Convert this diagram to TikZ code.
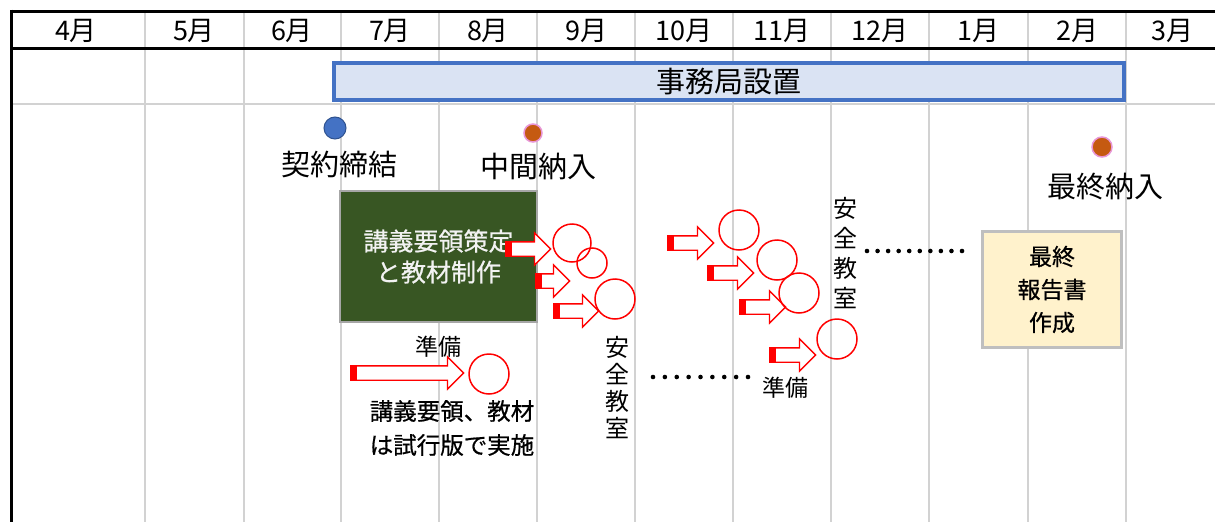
\documentclass[tikz,border=0pt]{standalone}
\usepackage{fontspec}
\setmainfont{Noto Sans CJK JP}
\newfontfamily\jpsemi{Noto Sans CJK JP}[FakeBold=0.6]
\usetikzlibrary{shapes.arrows}
\definecolor{gridgray}{RGB}{210,210,210}
\definecolor{barblue}{RGB}{68,114,196}
\definecolor{barfill}{RGB}{218,227,243}
\definecolor{darkblue}{RGB}{47,82,143}
\definecolor{orangefill}{RGB}{197,90,17}
\definecolor{pinkline}{RGB}{232,150,215}
\definecolor{boxgreen}{RGB}{56,86,35}
\definecolor{boxgray}{RGB}{166,166,166}
\definecolor{paleyellow}{RGB}{255,242,204}
\definecolor{lightgray}{RGB}{191,191,191}
\definecolor{offwhite}{RGB}{242,242,242}
\newcommand{\fs}[1]{\fontsize{#1}{#1}\selectfont}
\begin{document}
\begin{tikzpicture}[x=1pt,y=-1pt,
  gridline/.style={draw=gridgray,line width=2.5pt},
  frame/.style={draw=black,line width=3pt},
  month/.style={font=\fs{27}},
  bar/.style={draw=barblue,fill=barfill,line width=4pt,minimum width=790pt,minimum height=37pt,inner sep=0pt,font=\fs{29}},
  milestone/.style={font=\fs{29}},
  dotblue/.style={circle,draw=darkblue,fill=barblue,line width=1pt,minimum size=22pt,inner sep=0pt},
  dotorange/.style={circle,draw=pinkline,fill=orangefill,line width=1.5pt,minimum size=18pt,inner sep=0pt},
  greenbox/.style={draw=boxgray,fill=boxgreen,line width=2pt,minimum width=197pt,minimum height=131pt,inner sep=0pt,text=offwhite,font=\jpsemi\fs{25},align=center},
  finalbox/.style={draw=lightgray,fill=paleyellow,line width=3pt,minimum width=139pt,minimum height=116pt,inner sep=0pt,font=\jpsemi\fs{23},align=center},
  blockarrow/.style={single arrow,draw=red,fill=white,line width=1.3pt,anchor=tail,
     inner xsep=0pt,inner ysep=6.5pt,single arrow head extend=9pt,minimum height=#1,
     path picture={\fill[red] (path picture bounding box.south west) rectangle ([xshift=6pt]path picture bounding box.north west);}},
  ring/.style={circle,draw=red,line width=1.5pt,minimum size=#1,inner sep=0pt},
  small/.style={font=\fs{23}},
  vert/.style={font=\fs{24},align=center},
  note/.style={font=\jpsemi\fs{23.5},align=center},
  blackdot/.style={fill=black}
]
\useasboundingbox (0,0) rectangle (1215,522);
% grid
\foreach \x in {145,244,341,439,537,635,733,831,929,1028,1126}
  \draw[gridline] (\x,11) -- (\x,522);
\draw[gridline] (11,104) -- (1215,104);
\draw[frame] (11,11) -- (1215,11);
\draw[frame] (11,48.5) -- (1215,48.5);
\draw[frame] (11,9.5) -- (11,522);
% months
\foreach \m/\x/\n in {4月/76/a,5月/194/b,6月/292/c,7月/390/d,8月/488/e,9月/586/f,10月/684/g,11月/782/h,12月/880/i,1月/978/j,2月/1077/k,3月/1172/l}
  \node[month] (month\n) at (\x,31) {\m};
% bar
\node[bar] (jimu) at (729,81.5) {事務局設置};
% milestones
\node[dotblue] (dotkeiyaku) at (335,128) {};
\node[dotorange] (dotchukan) at (533,133) {};
\node[dotorange,minimum size=20pt] (dotsaishu) at (1102,147) {};
\node[milestone] (keiyaku) at (339,164) {契約締結};
\node[milestone] (chukan) at (538,166) {中間納入};
\node[milestone] (saishu) at (1105,187) {最終納入};
% boxes
\node[greenbox] (kogi) at (438.5,256.5) {講義要領策定\\[6pt]と教材制作};
\node[finalbox] (final) at (1052,289.5) {最終\\[10pt]報告書\\[10pt]作成};
% arrows
\node[blockarrow=45pt] (a1) at (505,249) {};
\node[blockarrow=34pt] (a2) at (535,281) {};
\node[blockarrow=45pt] (a3) at (553,311) {};
\node[blockarrow=113pt] (ab) at (350,373) {};
\node[blockarrow=46pt] (b1) at (667,243) {};
\node[blockarrow=46pt] (b2) at (707,273) {};
\node[blockarrow=46pt] (b3) at (739,307) {};
\node[blockarrow=46pt] (b4) at (769,355) {};
% rings
\node[ring=38pt] (c1) at (572,243) {};
\node[ring=30pt] (c2) at (592,263) {};
\node[ring=40pt] (c3) at (615,299) {};
\node[ring=40pt] (cb) at (489,374) {};
\node[ring=40pt] (d1) at (739,230) {};
\node[ring=40pt] (d2) at (777,260) {};
\node[ring=40pt] (d3) at (799,293) {};
\node[ring=40pt] (d4) at (837,339) {};
% labels
\node[small] (junbi1) at (438,347) {準備};
\node[small] (junbi2) at (785,388) {準備};
\node[vert] (anzen1) at (617,388) {安\\[3pt]全\\[3pt]教\\[3pt]室};
\node[vert] (anzen2) at (845,253) {安\\[6pt]全\\[6pt]教\\[6pt]室};
\node[note] (shikou) at (452,428) {講義要領、教材\\[10.5pt]は試行版で実施};
% dotted leaders
\foreach \i in {0,...,8}
  \fill[blackdot] (653+\i*11.875,377) circle (2.3pt);
\foreach \i in {0,...,9}
  \fill[blackdot] (867+\i*10.556,251) circle (2.3pt);
\end{tikzpicture}
\end{document}
